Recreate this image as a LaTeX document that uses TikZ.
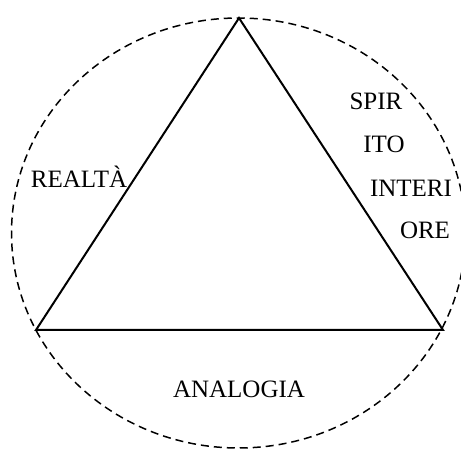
\documentclass[tikz,border=0pt]{standalone}
\usepackage{fontspec}
\setmainfont{Liberation Serif}
\begin{document}
\begin{tikzpicture}[x=1pt,y=-1pt,
  lbl/.style={anchor=base,inner sep=0pt,font=\fontsize{25}{29}\selectfont},
  side/.style={line width=2pt,line join=miter},
  halo/.style={line width=1.5pt,dash pattern=on 8pt off 5pt}]
\useasboundingbox (0,0) rectangle (461,449);
\coordinate (T) at (239,18);
\coordinate (L) at (36,330);
\coordinate (R) at (443,330);
\draw[halo] (238.5,233) ellipse [x radius=227, y radius=215];
\draw[side] (T) -- (L) -- (R) -- cycle;
\node[lbl] (realta) at (79,188) {REALTÀ};
\node[lbl] (s1) at (376,110) {SPIR};
\node[lbl] (s2) at (384,153) {ITO};
\node[lbl] (s3) at (411,197) {INTERI};
\node[lbl] (s4) at (425,239) {ORE};
\node[lbl] (analogia) at (239,397) {ANALOGIA};
\end{tikzpicture}
\end{document}
